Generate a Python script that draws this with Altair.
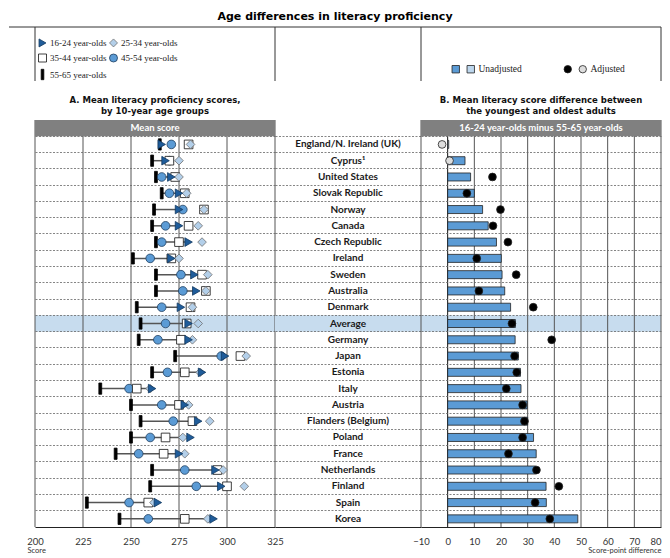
import altair as alt
import pandas as pd

# ---------------- data ----------------
countries = ["England/N. Ireland (UK)", "Cyprus¹", "United States", "Slovak Republic", "Norway",
             "Canada", "Czech Republic", "Ireland", "Sweden", "Australia", "Denmark", "Average",
             "Germany", "Japan", "Estonia", "Italy", "Austria", "Flanders (Belgium)", "Poland",
             "France", "Netherlands", "Finland", "Spain", "Korea"]
score_16_24 = [266, 268, 271, 275, 275, 275, 280, 271, 283, 284, 276, 280, 280, 299, 287, 261, 278, 285, 281, 275, 294, 297, 264, 293]
score_25_34 = [281, 275, 275, 279, 288, 285, 287, 275, 290, 289, 282, 285, 282, 310, 286, 260, 280, 291, 277, 278, 298, 309, 262, 290]
score_35_44 = [280, 270, 273, 278, 288, 280, 275, 271, 287, 289, 281, 279, 276, 307, 278, 253, 275, 282, 268, 267, 295, 300, 259, 278]
score_45_54 = [271, 270, 266, 270, 277, 268, 266, 260, 276, 277, 266, 268, 264, 297, 269, 249, 266, 272, 260, 254, 278, 284, 249, 259]
score_55_65 = [265, 261, 263, 266, 262, 261, 263, 251, 263, 263, 253, 255, 254, 273, 261, 234, 250, 255, 250, 242, 261, 260, 227, 244]
diff_unadjusted = [0.4, 6.5, 8.6, 10.0, 13.1, 15.2, 18.3, 20.1, 20.4, 21.4, 23.6, 25.4, 25.3, 26.5,
                   27.3, 27.5, 29.8, 30.0, 32.2, 33.2, 33.1, 36.9, 37.0, 48.8]
diff_adjusted = [-2.1, 0.7, 16.8, 7.2, 19.8, 17.0, 22.6, 10.9, 25.7, 11.7, 32.1, 24.1, 39.0, 25.1,
                 25.9, 22.0, 28.1, 28.8, 28.1, 22.8, 33.3, 41.7, 32.8, 38.3]
unadjusted_significant = [False] + [True] * 23
adjusted_significant = [False, False] + [True] * 22

age_groups = ["16-24 year-olds", "25-34 year-olds", "35-44 year-olds", "45-54 year-olds", "55-65 year-olds"]
sig_levels = ["Significant", "Not significant"]
ticks_a = [200, 225, 250, 275, 300, 325]
ticks_b = [-10, 0, 10, 20, 30, 40, 50, 60, 70, 80]

title_main = "Age differences in literacy proficiency"
title_a = ["A. Mean literacy proficiency scores,", "by 10-year age groups"]
title_b = ["B. Mean literacy score difference between", "the youngest and oldest adults"]
header_a = "Mean score"
header_b = "16-24 year-olds minus  55-65 year-olds"
axis_title_a = "Score"
axis_title_b = "Score-point difference"
highlight = "Average"

# ---------------- styling ----------------
W_A, W_L, W_B, H = 240, 146, 240, 407
BOX_TOP, BOX_BOTTOM = -93, -39
GRID = "#555555"
LINE = "#333333"
BAND = "#c7dcee"
HEAD = "#808080"
BLUE = "#5b9bd5"
HEADER_ROW = " "
rows = [HEADER_ROW] + countries
BAR_PATH = "M-0.33,-1.3H0.33V1.3H-0.33Z"

series = dict(zip(age_groups, [score_16_24, score_25_34, score_35_44, score_45_54, score_55_65]))
pts = pd.DataFrame([{"country": c, "age": a, "score": series[a][i]}
                    for a in age_groups[::-1] for i, c in enumerate(countries)])
conn = pd.DataFrame({"country": countries, "lo": score_55_65, "hi": score_16_24})
diffs = pd.DataFrame({
    "country": countries,
    "zero": [0] * len(countries),
    "unadj": diff_unadjusted,
    "adj": diff_adjusted,
    "bsig": [sig_levels[0] if s else sig_levels[1] for s in unadjusted_significant],
    "asig": [sig_levels[0] if s else sig_levels[1] for s in adjusted_significant],
})
avg = pd.DataFrame({"country": [highlight]})
hdr_a = pd.DataFrame({"country": [HEADER_ROW], "label": [header_a]})
hdr_b = pd.DataFrame({"country": [HEADER_ROW], "label": [header_b]})
labels = pd.DataFrame({"country": countries, "mid": [0] * len(countries)})
one = pd.DataFrame({"k": [0]})

yscale = alt.Scale(type="band", domain=rows, paddingInner=0, paddingOuter=0)
y_axis = alt.Axis(title=None, labels=False, ticks=False, domain=False, grid=True,
                  gridColor="#666666", gridDash=[2, 1.5], gridWidth=0.8, bandPosition=0,
                  values=countries, zindex=1)
Y = alt.Y("country:N", scale=yscale, axis=y_axis)


def box(width, left_ext=0, right_ext=0, right=False):
    layers = [
        alt.Chart(one).mark_rule(color=LINE, strokeWidth=1).encode(
            x=alt.value(-left_ext), x2=alt.value(width + right_ext), y=alt.value(BOX_TOP)),
        alt.Chart(one).mark_rule(color=LINE, strokeWidth=1).encode(
            x=alt.value(0), y=alt.value(BOX_TOP), y2=alt.value(BOX_BOTTOM)),
    ]
    if right:
        layers.append(alt.Chart(one).mark_rule(color=LINE, strokeWidth=1).encode(
            x=alt.value(width), y=alt.value(BOX_TOP), y2=alt.value(BOX_BOTTOM)))
    return layers


def header(df):
    rect = alt.Chart(df).mark_rect(color=HEAD).encode(y=Y)
    text = alt.Chart(df).mark_text(color="white", font="Lato", fontWeight="bold", fontSize=9.5).encode(
        y=Y, text="label:N")
    return [rect, text]


# ---------------- panel A ----------------
xs_a = alt.Scale(domain=[200, 325], nice=False, zero=False)
ax_a = alt.Axis(values=ticks_a, grid=False, ticks=False, domain=True, domainColor="#222222",
                labelFont="Lato", labelFontSize=9.5, labelColor="#333333", labelPadding=9,
                labelFlush=False, labelOverlap=False, format="d",
                title=axis_title_a, titleFont="Lato", titleFontSize=7.5, titleFontWeight="normal",
                titleColor="#333333", titleAnchor="start", titleAlign="left", titleX=-8, titlePadding=1)


def xa(field):
    return alt.X(field, scale=xs_a, axis=ax_a)


legend_ages = alt.Legend(title=None, orient="none", legendX=3, legendY=-82, columns=2,
                         direction="horizontal",
                         symbolSize=64, symbolStrokeWidth=0.8, labelFont="Liberation Serif",
                         labelFontSize=9, labelColor="#222222", rowPadding=2.5, columnPadding=0,
                         labelOffset=3)
shape_scale = alt.Scale(domain=age_groups, range=["triangle-right", "diamond", "square", "circle", BAR_PATH])
fill_scale = alt.Scale(domain=age_groups, range=["#1f5c9a", "#b3cfe9", "#ffffff", BLUE, "#000000"])
stroke_scale = alt.Scale(domain=age_groups, range=["#12385f", "#707070", "#111111", "#1f3f60", "#000000"])

band_a = alt.Chart(avg).mark_rect(color=BAND).encode(y=Y)
grid_a = alt.Chart(pd.DataFrame({"v": ticks_a})).mark_rule(color=GRID, strokeWidth=1).encode(x=xa("v:Q"))
line_a = alt.Chart(conn).mark_rule(color="#555555", strokeWidth=1.5).encode(
    x=xa("lo:Q"), x2="hi:Q", y=Y)
pts_a = alt.Chart(pts).mark_point(filled=True, size=75, strokeWidth=0.8, opacity=1).encode(
    x=xa("score:Q"), y=Y,
    shape=alt.Shape("age:N", scale=shape_scale, legend=legend_ages),
    fill=alt.Fill("age:N", scale=fill_scale, legend=legend_ages),
    stroke=alt.Stroke("age:N", scale=stroke_scale, legend=legend_ages),
)
panel_a = alt.layer(band_a, grid_a, line_a, pts_a, *header(hdr_a), *box(W_A, left_ext=26)).properties(
    width=W_A, height=H,
    title=alt.TitleParams(title_a, font="DejaVu Sans", fontSize=8.5, fontWeight="bold",
                          anchor="middle", offset=-89, lineHeight=11, color="#111111"),
)

# ---------------- label column ----------------
band_l = alt.Chart(avg).mark_rect(color=BAND).encode(y=Y)
text_l = alt.Chart(labels).mark_text(font="Lato", fontWeight="bold", fontSize=10, color="#1a1a1a").encode(
    y=Y, text="country:N",
    x=alt.X("mid:Q", scale=alt.Scale(domain=[-1, 1]),
            axis=alt.Axis(labels=False, ticks=False, grid=False, title=None, domainColor="#222222")),
)
panel_l = alt.layer(band_l, text_l, *box(W_L)).properties(width=W_L, height=H)

# ---------------- panel B ----------------
xs_b = alt.Scale(domain=[-10, 80], nice=False, zero=False)
ax_b = alt.Axis(values=ticks_b, grid=False, ticks=False, domain=True, domainColor="#222222",
                labelFont="Lato", labelFontSize=9.5, labelColor="#333333", labelPadding=9,
                labelFlush=False, labelOverlap=False, format="d",
                labelAlign=alt.expr("datum.value == 80 ? 'right' : 'center'"),
                title=axis_title_b, titleFont="Lato", titleFontSize=7.5, titleFontWeight="normal",
                titleColor="#333333", titleAnchor="end", titleAlign="right", titlePadding=1)


def xb(field):
    return alt.X(field, scale=xs_b, axis=ax_b)


band_b = alt.Chart(avg).mark_rect(color=BAND).encode(y=Y)
grid_b = alt.Chart(pd.DataFrame({"v": ticks_b})).mark_rule(strokeWidth=1).encode(
    x=xb("v:Q"),
    color=alt.condition("datum.v == 0", alt.value("#111111"), alt.value(GRID)),
)
bars_b = alt.Chart(diffs).mark_bar(size=8, stroke="#222222", strokeWidth=0.8).encode(
    x=xb("zero:Q"), x2="unadj:Q", y=Y,
    fill=alt.Fill("bsig:N", scale=alt.Scale(domain=sig_levels, range=[BLUE, "#bdd7ee"]),
                  legend=alt.Legend(title=None, orient="none", legendX=30, legendY=-56, columns=2,
                                    direction="horizontal",
                                    symbolType="square", symbolSize=55, symbolStrokeColor="#222222",
                                    symbolStrokeWidth=0.8, labelFont="Liberation Serif",
                                    labelFontSize=9.5, labelColor="#222222", columnPadding=1,
                                    labelOffset=3,
                                    labelExpr="datum.value == 'Not significant' ? 'Unadjusted' : ''")),
)
pts_b = alt.Chart(diffs).mark_point(filled=True, shape="circle", size=60, stroke="#222222",
                                    strokeWidth=0.8, opacity=1).encode(
    x=xb("adj:Q"), y=Y,
    fill=alt.Fill("asig:N", scale=alt.Scale(domain=sig_levels, range=["#000000", "#dddddd"]),
                  legend=alt.Legend(title=None, orient="none", legendX=142, legendY=-56, columns=2,
                                    direction="horizontal",
                                    symbolType="circle", symbolSize=55, symbolStrokeColor="#222222",
                                    symbolStrokeWidth=0.8, labelFont="Liberation Serif",
                                    labelFontSize=9.5, labelColor="#222222", columnPadding=1,
                                    labelOffset=3,
                                    labelExpr="datum.value == 'Not significant' ? 'Adjusted' : ''")),
)
panel_b = alt.layer(band_b, grid_b, bars_b, pts_b, *header(hdr_b),
                    *box(W_B, right_ext=0, right=True)).resolve_scale(
    fill="independent").properties(
    width=W_B, height=H,
    title=alt.TitleParams(title_b, font="DejaVu Sans", fontSize=8.5, fontWeight="bold",
                          anchor="middle", offset=-89, lineHeight=11, color="#111111"),
)

chart = alt.hconcat(panel_a, panel_l, panel_b, spacing=0, bounds="flush").properties(
    title=alt.TitleParams(title_main, font="DejaVu Sans", fontSize=11, fontWeight="bold",
                          anchor="middle", offset=5, color="#000000"),
    padding={"left": 0, "right": 0, "top": 2, "bottom": 0},
).configure_view(stroke=None)

chart.save("out.html", embed_options={"renderer": "svg", "actions": False})
